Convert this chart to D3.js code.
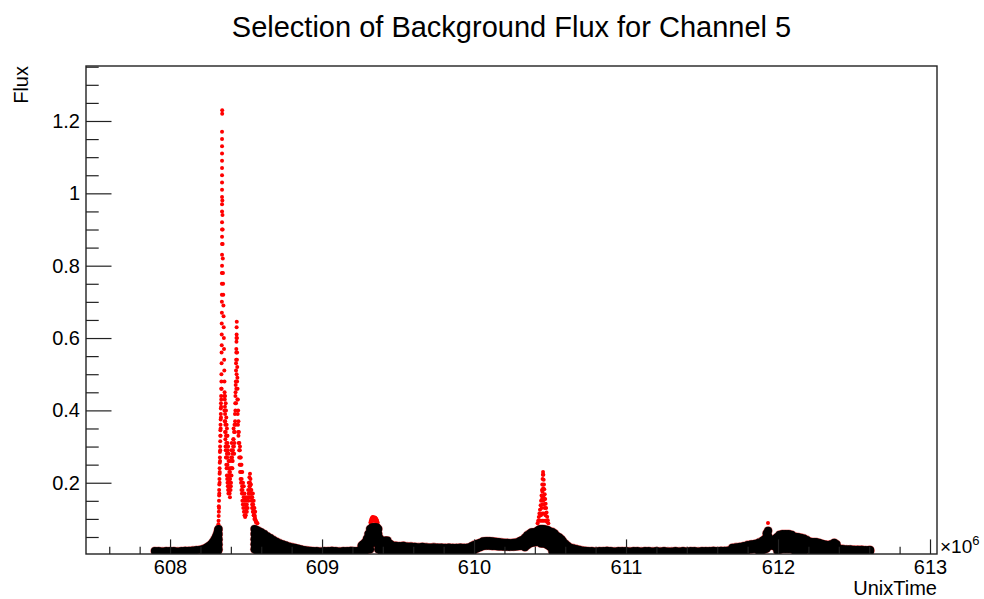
<!DOCTYPE html>
<html>
<head>
<meta charset="utf-8">
<script src="https://cdn.jsdelivr.net/npm/d3@7"></script>
<style>
  body { margin: 0; background: #fff; }
  text { font-family: "Liberation Sans", Arial, Helvetica, sans-serif; fill: #000; }
</style>
</head>
<body>
<div id="chart"></div>
<script>
// time is UnixTime / 1e6, each row = [time, flux, flux, ...] (readings in the same time bin)
var bgBefore = [
  [607.900,.011],[607.925,.011],[607.950,.010],[607.975,.011],[608.000,.011],[608.025,.011],
  [608.050,.010],[608.075,.011],[608.100,.012],[608.125,.012],[608.150,.013],[608.175,.014],
  [608.200,.015],[608.220,.017,.011],[608.240,.021,.011],[608.255,.025,.012],[608.270,.030,.016],
  [608.282,.036,.022,.011],[608.293,.043,.029,.015],[608.302,.051,.037,.023,.011],
  [608.310,.059,.045,.031,.017],[608.316,.068,.054,.040,.026,.012],[608.319,.072,.058,.044,.030,.016]
];

var bgDecay = [
  [608.556,.072,.058,.044,.030,.016],[608.570,.069,.055,.041,.027,.013],[608.585,.066,.052,.038,.024,.011],
  [608.600,.063,.049,.035,.021,.011],[608.620,.058,.044,.030,.016],[608.640,.052,.038,.024,.011],
  [608.660,.047,.033,.019,.011],[608.680,.042,.028,.014],[608.700,.037,.024,.011],[608.720,.033,.020,.011],
  [608.740,.030,.017,.011],[608.760,.027,.014],[608.780,.024,.011],[608.800,.022,.011],[608.820,.020,.011],
  [608.840,.018,.011],[608.860,.016,.011],[608.880,.014],[608.900,.013],[608.920,.012],
  [608.940,.011],[608.965,.011],[608.990,.010],[609.015,.011],[609.040,.011],[609.065,.012],
  [609.090,.011],[609.115,.010],[609.140,.011],[609.165,.011],[609.190,.012],[609.215,.011],[609.240,.012]
];

var bgMiddle = [
  [609.260,.026,.012],[609.270,.030,.017],[609.283,.035,.022,.011],[609.295,.045,.031,.017],
  [609.305,.058,.044,.030,.016],[609.316,.072,.058,.044,.030,.016],[609.330,.077,.063,.049,.035],
  [609.340,.077,.063,.049,.035],[609.350,.077,.063,.049,.035],[609.360,.077,.063,.049,.035],
  [609.370,.072,.058,.044,.030,.016],[609.380,.046,.032,.018],[609.390,.020,.011],[609.400,.038,.024,.011],
  [609.415,.040,.026,.012],[609.430,.040,.026,.012],[609.447,.031,.017],
  [609.460,.027,.011],[609.485,.026,.011],[609.510,.025,.011],[609.535,.026,.011],[609.560,.024,.011],
  [609.585,.024,.011],[609.610,.023,.011],[609.635,.022,.011],[609.660,.023,.011],[609.685,.022,.011],
  [609.710,.021,.011],[609.735,.022,.011],[609.760,.021,.011],[609.785,.021,.011],[609.810,.020,.011],
  [609.835,.021,.011],[609.860,.020,.011],[609.885,.020,.011],[609.910,.021,.011],[609.935,.020,.011],
  [609.960,.021,.011],[609.985,.025,.012],[610.000,.028,.014],[610.020,.031,.018],[610.040,.034,.022],
  [610.060,.038,.025],[610.080,.039,.026],[610.100,.039,.026],[610.120,.038,.025],[610.140,.037,.025],
  [610.160,.036,.024],[610.180,.035,.024],[610.200,.034,.023],[610.220,.034,.023],[610.240,.033,.023],
  [610.260,.034,.023],[610.280,.035,.024],[610.300,.038,.025],[610.310,.040,.026],[610.320,.042,.028],
  [610.335,.048,.034,.022],[610.350,.055,.041,.027],[610.368,.060,.046,.032],[610.380,.063,.049,.035],
  [610.395,.063,.049,.035],[610.410,.064,.050,.036],[610.420,.068,.054,.040],[610.430,.071,.057,.043],
  [610.440,.072,.058,.044,.032],[610.455,.072,.058,.044,.032],[610.470,.071,.057,.043,.031],
  [610.485,.069,.055,.041,.027],[610.500,.065,.051,.037,.023],[610.515,.064,.050,.036,.022,.011],
  [610.530,.060,.046,.032,.018],[610.545,.053,.039,.025,.011],[610.560,.049,.035,.021,.011],
  [610.575,.044,.030,.016],[610.585,.038,.024,.011],[610.600,.031,.017],[610.615,.026,.013],
  [610.630,.021,.011],[610.650,.019,.011],[610.670,.017,.011],[610.690,.015],[610.710,.013],[610.730,.012]
];

var bgQuiet = [
  [610.750,.011],[610.775,.011],[610.800,.010],[610.825,.011],[610.850,.011],[610.875,.012],
  [610.900,.011],[610.925,.010],[610.950,.011],[610.975,.011],[611.000,.011],[611.025,.010],
  [611.050,.011],[611.075,.011],[611.100,.010],[611.125,.011],[611.150,.011],[611.175,.010],
  [611.200,.011],[611.225,.010],[611.250,.011],[611.275,.010],[611.300,.010],[611.325,.011],
  [611.350,.010],[611.375,.011],[611.400,.010],[611.425,.011],[611.450,.011],[611.475,.010],
  [611.500,.011],[611.525,.011],[611.550,.011],[611.575,.012],[611.600,.011],[611.625,.012],
  [611.650,.012],[611.675,.013]
];

var bgLate = [
  [611.700,.020,.011],[611.725,.022,.011],[611.750,.023,.011],[611.775,.025,.012],[611.800,.028,.014],
  [611.825,.030,.016],[611.850,.031,.017],[611.875,.035,.021,.011],[611.900,.040,.026,.014],
  [611.915,.045,.031,.017],[611.925,.060,.046,.032,.018],[611.935,.067,.053,.039,.025],
  [611.950,.036,.026],[611.965,.038,.027],[611.980,.045,.033,.024],[611.995,.050,.036,.024,.013],
  [612.010,.056,.042,.028,.015],[612.030,.058,.044,.030,.017],[612.050,.058,.044,.030,.017],
  [612.070,.058,.044,.030,.017],[612.090,.056,.042,.028,.017],[612.110,.051,.037,.023,.012],
  [612.130,.050,.036,.022,.012],[612.150,.048,.034,.020,.011],[612.170,.046,.032,.019,.011],
  [612.190,.042,.028,.016],[612.210,.037,.024,.014],[612.230,.036,.023,.013],[612.250,.036,.023,.013],
  [612.270,.034,.021,.012],[612.290,.031,.019,.011],[612.310,.029,.018,.011],[612.330,.028,.017,.011],
  [612.350,.030,.018,.011],[612.370,.034,.020,.011],[612.385,.030,.018,.011],[612.400,.018,.011],
  [612.425,.017,.011],[612.450,.016,.011],[612.475,.016,.011],[612.500,.015,.011],[612.525,.015,.011],
  [612.550,.015,.011],[612.575,.014,.011],[612.600,.014,.011],[612.606,.014,.011]
];

// selected (flare) points, drawn red
var flareMain = [
  [608.318,.085],[608.319,.095],[608.320,.108],[608.321,.120],[608.321,.135],[608.322,.150],
  [608.323,.165],[608.323,.180],[608.324,.195],[608.325,.210],[608.326,.225],[608.326,.240],
  [608.327,.255],[608.328,.270],[608.328,.285],[608.329,.300],[608.330,.315],[608.331,.330],
  [608.331,.345],[608.332,.360],[608.333,.375],[608.334,.390],[608.334,.405],[608.335,.420],
  [608.336,.440],[608.337,.460],[608.338,.480],[608.338,.500],[608.339,.530],[608.339,.560],
  [608.340,.580],[608.340,.610],[608.340,.640],[608.341,.670],[608.341,.700],[608.341,.720],
  [608.341,.750],[608.341,.780],[608.342,.800],[608.342,.830],[608.342,.860],[608.342,.880],
  [608.342,.900],[608.342,.920],[608.342,.950],[608.342,.970],[608.342,.990],[608.342,1.01],
  [608.342,1.03],[608.342,1.05],[608.342,1.07],[608.342,1.09],[608.342,1.11],[608.342,1.13],
  [608.342,1.15],[608.342,1.17],[608.343,1.22],[608.343,1.23],
  [608.344,.980],[608.345,.940],[608.346,.900],[608.346,.860],[608.347,.820],[608.348,.780],
  [608.349,.750],[608.350,.720],[608.351,.690],[608.352,.660],[608.353,.630],[608.354,.600],
  [608.355,.570],[608.356,.540],[608.357,.510],
  [608.358,.480],[608.359,.450],[608.360,.430],[608.361,.410],[608.362,.390],[608.363,.370],
  [608.364,.360],[608.366,.340],[608.368,.330],[608.370,.310],[608.372,.300],[608.374,.280],
  [608.376,.270],[608.378,.250],[608.380,.240],[608.382,.220],[608.384,.210],[608.386,.200],
  [608.388,.190],[608.390,.180],[608.392,.170],[608.394,.160],
  [608.365,.300],[608.370,.270],[608.375,.330],[608.380,.290],[608.385,.260],[608.390,.230],
  [608.395,.210],[608.400,.190],[608.368,.400],[608.372,.360],[608.378,.310],[608.362,.440],
  [608.398,.180],[608.401,.200],[608.404,.220],[608.406,.240],[608.409,.260],[608.412,.280],
  [608.415,.300],[608.418,.320],[608.421,.340],[608.424,.360],[608.427,.390],[608.429,.420],
  [608.431,.450],[608.433,.480],[608.434,.510],[608.435,.540],[608.436,.570],[608.437,.600],
  [608.438,.630],[608.439,.645],
  [608.440,.600],[608.441,.560],[608.442,.520],[608.443,.490],[608.444,.460],[608.446,.430],
  [608.448,.400],[608.450,.370],[608.453,.340],[608.456,.310],[608.459,.290],[608.462,.270],
  [608.465,.250],[608.468,.230],[608.471,.210],[608.474,.190],[608.477,.180],[608.480,.170],
  [608.484,.160],[608.488,.150],[608.492,.140],[608.496,.130],[608.500,.120],
  [608.450,.330],[608.455,.290],[608.460,.300],[608.465,.270],[608.470,.250],[608.475,.230],
  [608.480,.200],[608.485,.190],[608.490,.170],[608.495,.160],[608.500,.150],[608.505,.120],
  [608.505,.140],[608.510,.160],[608.514,.180],[608.518,.200],[608.522,.215],[608.526,.225],
  [608.529,.210],[608.532,.195],[608.535,.180],[608.538,.170],[608.541,.160],[608.544,.150],
  [608.547,.140],[608.550,.130],[608.553,.120],[608.556,.110],[608.560,.100],[608.565,.095],
  [608.570,.090],[608.575,.088],
  [608.510,.130],[608.515,.150],[608.520,.170],[608.525,.190],[608.530,.180],[608.535,.160],
  [608.540,.140],[608.545,.120],[608.550,.110],[608.555,.100],[608.545,.170],[608.550,.150],
  [608.555,.130],[608.560,.120]
];

// denser scatter inside the big flare
var flareScatter = [
  [608.322,.130],[608.324,.170],[608.326,.200],[608.327,.230],[608.329,.260],[608.330,.290],
  [608.332,.330],[608.333,.350],[608.335,.380],[608.336,.410],[608.337,.430],[608.339,.460],
  [608.356,.440],[608.358,.400],[608.360,.370],[608.362,.340],[608.364,.320],[608.366,.290],
  [608.368,.270],[608.370,.250],[608.372,.240],[608.374,.220],[608.376,.210],[608.378,.200],
  [608.380,.190],[608.382,.180],[608.384,.170],[608.386,.180],[608.388,.210],[608.390,.240],
  [608.392,.260],[608.394,.230],[608.396,.200],[608.398,.220],[608.400,.240],[608.402,.270],
  [608.404,.290],[608.406,.310],[608.408,.270],[608.410,.240],[608.412,.260],[608.414,.290],
  [608.416,.320],[608.418,.350],[608.420,.300],[608.422,.280],[608.424,.310],[608.426,.340],
  [608.428,.370],[608.430,.400],[608.432,.360],[608.434,.420],[608.436,.460],[608.438,.500],
  [608.440,.540],[608.441,.480],[608.443,.430],[608.445,.390],[608.447,.360],[608.449,.340],
  [608.452,.310],[608.455,.270],[608.458,.250],[608.461,.230],[608.464,.210],[608.467,.200],
  [608.470,.180],[608.473,.170],[608.476,.150],[608.479,.140],[608.482,.130],[608.486,.120],
  [608.490,.110],[608.494,.105],[608.498,.110],[608.502,.130],
  [608.366,.420],[608.370,.380],[608.374,.350],[608.378,.330],[608.382,.300],[608.386,.280],
  [608.390,.260],[608.430,.440],[608.432,.470],[608.434,.530],[608.436,.560],[608.437,.590],
  [608.438,.610],[608.518,.170],[608.522,.190],[608.526,.200],[608.524,.160],[608.528,.180],
  [608.532,.170],[608.536,.150],[608.540,.130],[608.544,.130],[608.548,.120],[608.552,.110],
  [608.558,.105],[608.562,.095],[608.566,.090]
];

var flareSmall = [
  [609.318,.090],[609.322,.096],[609.326,.101],[609.330,.104],[609.334,.105],[609.338,.104],
  [609.342,.103],[609.346,.104],[609.350,.103],[609.354,.101],[609.358,.099],[609.362,.095],
  [609.366,.090],[609.330,.094],[609.340,.095],[609.350,.094],[609.360,.091],
  [610.418,.088],[610.422,.095],[610.426,.105],[610.430,.115],[610.434,.125],[610.438,.138],
  [610.441,.150],[610.444,.165],[610.447,.180],[610.449,.195],[610.451,.210],[610.453,.222],
  [610.454,.230],[610.456,.222],[610.458,.208],[610.460,.195],[610.462,.182],[610.465,.168],
  [610.468,.155],[610.471,.142],[610.474,.130],[610.477,.118],[610.481,.106],[610.485,.096],
  [610.489,.088],[610.445,.130],[610.450,.140],[610.455,.150],[610.460,.140],[610.465,.130],
  [610.440,.110],[610.450,.115],[610.460,.115],[610.470,.110],[610.430,.095],[610.440,.095],
  [610.450,.095],[610.460,.095],[610.470,.095],[610.480,.092],[610.450,.175],[610.455,.185],
  [610.452,.160],[610.458,.165],[610.448,.155],[610.462,.155],
  [611.934,.089]
];

var xTicks = [608, 609, 610, 611, 612, 613];
var yTicks = [0.2, 0.4, 0.6, 0.8, 1, 1.2];

// set the dimensions and margins of the graph
var margin = {top: 66, right: 47, bottom: 45, left: 86},
    width = 984 - margin.left - margin.right,
    height = 599 - margin.top - margin.bottom;

var svg = d3.select("#chart")
  .append("svg")
    .attr("width", width + margin.left + margin.right)
    .attr("height", height + margin.top + margin.bottom)
  .append("g")
    .attr("transform", "translate(" + margin.left + "," + margin.top + ")");

var x = d3.scaleLinear().domain([607.447, 613.046]).range([0, width]);
var y = d3.scaleLinear().domain([0.003, 1.352]).range([height, 0]);

function flatten(rows) {
  var out = [];
  rows.forEach(function(r) {
    for (var i = 1; i < r.length; i++) out.push([r[0], r[i]]);
  });
  return out;
}

var background = flatten(bgBefore.concat(bgDecay, bgMiddle, bgQuiet, bgLate));
var selected = flareMain.concat(flareScatter, flareSmall);

svg.append("clipPath").attr("id", "clip")
  .append("rect").attr("width", width).attr("height", height);

var plot = svg.append("g").attr("clip-path", "url(#clip)");

// red under everything
plot.append("g").selectAll("circle")
  .data(background).enter().append("circle")
    .attr("cx", d => x(d[0])).attr("cy", d => y(d[1]))
    .attr("r", 4.6)
    .style("fill", "#d00000").style("opacity", 0.5);

plot.append("g").selectAll("circle")
  .data(selected).enter().append("circle")
    .attr("cx", d => x(d[0])).attr("cy", d => y(d[1]))
    .attr("r", 2)
    .style("fill", "#ff0000");

plot.append("g").selectAll("circle")
  .data(background).enter().append("circle")
    .attr("cx", d => x(d[0])).attr("cy", d => y(d[1]))
    .attr("r", 4)
    .style("fill", "#000");

// axes (ROOT style, ticks inside)
var xMinor = d3.range(607.6, 613.01, 0.2).filter(v => Math.abs(v - Math.round(v)) > 0.01);
var yMinor = d3.range(0.05, 1.36, 0.05).filter(v => Math.abs(v * 5 - Math.round(v * 5)) > 0.01);

svg.append("g")
  .attr("transform", "translate(0," + height + ")")
  .call(d3.axisBottom(x).tickValues(xTicks).tickSize(-14.6).tickPadding(6).tickFormat(d3.format("d")))
  .call(g => g.select(".domain").remove())
  .selectAll("text").style("font-size", "20px");

svg.append("g")
  .attr("transform", "translate(0," + height + ")")
  .call(d3.axisBottom(x).tickValues(xMinor).tickSize(-7.3).tickFormat(""))
  .call(g => g.select(".domain").remove());

svg.append("g")
  .call(d3.axisLeft(y).tickValues(yTicks).tickSize(-25.5).tickPadding(6).tickFormat(d3.format("~g")))
  .call(g => g.select(".domain").remove())
  .selectAll("text").style("font-size", "20px");

svg.append("g")
  .call(d3.axisLeft(y).tickValues(yMinor).tickSize(-12.7).tickFormat(""))
  .call(g => g.select(".domain").remove());

svg.selectAll(".tick line").attr("stroke", "#222").attr("stroke-width", 1.2);

svg.append("rect")
  .attr("width", width).attr("height", height)
  .attr("fill", "none").attr("stroke", "#222").attr("stroke-width", 1.4);

// texts
svg.append("text")
  .attr("x", 425.5).attr("y", -29)
  .attr("text-anchor", "middle")
  .style("font-size", "29px")
  .text("Selection of Background Flux for Channel 5");

svg.append("text")
  .attr("transform", "translate(-58,0) rotate(-90)")
  .attr("text-anchor", "end")
  .style("font-size", "20px")
  .text("Flux");

svg.append("text")
  .attr("x", width).attr("y", height + 40.5)
  .attr("text-anchor", "end")
  .style("font-size", "20px")
  .text("UnixTime");

var mult = svg.append("text")
  .attr("x", width + 3).attr("y", height - 1)
  .style("font-size", "19px");
mult.append("tspan").text("\u00d710");
mult.append("tspan").attr("dy", -8).style("font-size", "13px").text("6");
</script>
</body>
</html>
